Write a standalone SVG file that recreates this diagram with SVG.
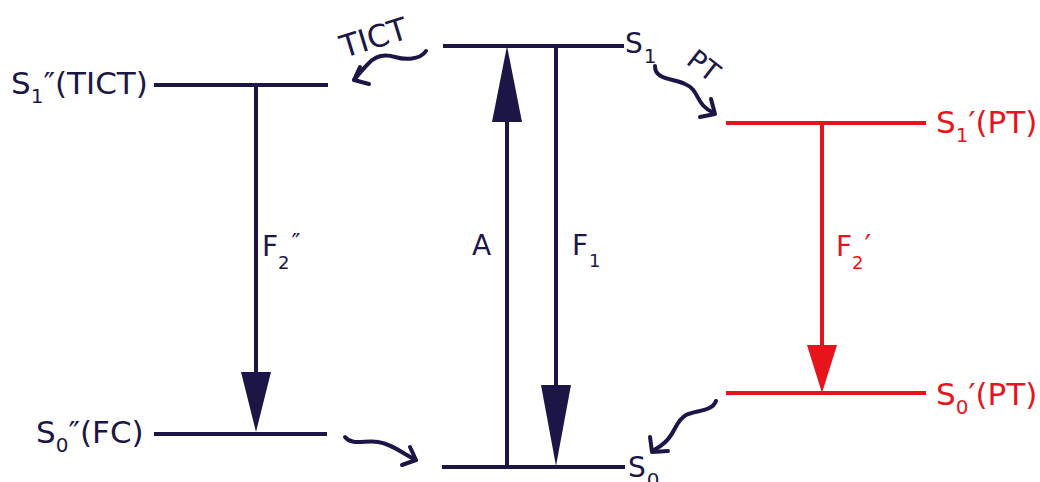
<svg xmlns="http://www.w3.org/2000/svg" width="1040" height="482" viewBox="0 0 1040 482">
<style>
.lvl{stroke-width:4;fill:none}
.d{stroke:#1c1646}
.r{stroke:#e8141b}
.hd{fill:#1c1646}
.hr{fill:#e8141b}
.wave{stroke:#1c1646;stroke-width:4;fill:none;stroke-linecap:round;stroke-linejoin:round}
text{font-family:"DejaVu Sans","Liberation Sans",sans-serif}
.tl{font-size:31px}
.tc{font-size:28px}
.td{fill:#1c1646}
.tr{fill:#e8141b}
.sb{font-size:20px}
</style>
<rect width="1040" height="482" fill="#ffffff"/>
<g id="S1">
<line class="lvl d" x1="443" y1="46" x2="624" y2="46"/>
<text class="tc td" x="625" y="53">S<tspan class="sb" dx="1" dy="10">1</tspan></text>
</g>
<g id="S0">
<line class="lvl d" x1="442" y1="467" x2="625" y2="467"/>
<text class="tc td" x="628" y="477">S<tspan class="sb" dx="1" dy="10">0</tspan></text>
</g>
<g id="S1TICT">
<line class="lvl d" x1="154" y1="85" x2="328" y2="85"/>
<text class="tl td" x="11" y="94">S<tspan class="sb" dy="9">1</tspan><tspan dy="-9">″(TICT)</tspan></text>
</g>
<g id="S0FC">
<line class="lvl d" x1="154" y1="434" x2="327" y2="434"/>
<text class="tl td" x="36" y="443">S<tspan class="sb" dy="9">0</tspan><tspan dy="-9">″(FC)</tspan></text>
</g>
<g id="S1PT">
<line class="lvl r" x1="726" y1="123" x2="926" y2="123"/>
<text class="tl tr" x="936" y="133">S<tspan class="sb" dy="9">1</tspan><tspan dy="-9">′(PT)</tspan></text>
</g>
<g id="S0PT">
<line class="lvl r" x1="726" y1="393" x2="926" y2="393"/>
<text class="tl tr" x="936" y="405">S<tspan class="sb" dy="9">0</tspan><tspan dy="-9">′(PT)</tspan></text>
</g>
<g id="connectors">
<line class="lvl d" x1="507" y1="467" x2="507" y2="118"/>
<polygon class="hd" points="507,46 492,122 522,122"/>
<text class="tc td" x="472" y="255">A</text>
<line class="lvl d" x1="556" y1="46" x2="556" y2="390"/>
<polygon class="hd" points="556,466 541,385 571,385"/>
<text class="tc td" x="572" y="255">F<tspan font-size="18" dx="1" dy="12">1</tspan></text>
<line class="lvl d" x1="256" y1="85" x2="256" y2="378"/>
<polygon class="hd" points="256,432 241,372 271,372"/>
<text class="tc td" x="262" y="256">F<tspan font-size="18" dy="13">2</tspan><tspan font-size="24" dx="2" dy="-18">″</tspan></text>
<line class="lvl r" x1="822" y1="123" x2="822" y2="350"/>
<polygon class="hr" points="822,393 807,345 837,345"/>
<text class="tc tr" x="836" y="256">F<tspan font-size="18" dy="13">2</tspan><tspan font-size="30" dx="1" dy="-13">′</tspan></text>
<path class="wave" d="M426,51 C420,60 405,60 395,57 C385,54 375,56 368,64 C362,70 358,75 354,80"/>
<path class="wave" d="M360,67 L354,80 L369,84"/>
<text class="td" font-size="31" transform="translate(344,58) rotate(-17)">TICT</text>
<path class="wave" d="M655,66 C655,80 672,78 685,84 C700,90 695,105 714,113"/>
<path class="wave" d="M711,99 L715,114 L700,117"/>
<text class="td" font-size="27" transform="translate(685,63) rotate(38)">PT</text>
<path class="wave" d="M345,437 C352,446 365,440 378,442 C392,444 400,452 416,460"/>
<path class="wave" d="M410,447 L416,460 L402,465"/>
<path class="wave" d="M716,401 C712,412 695,410 686,415 C672,423 678,438 652,451"/>
<path class="wave" d="M650,437 L652,452 L668,451"/>
</g>
</svg>
